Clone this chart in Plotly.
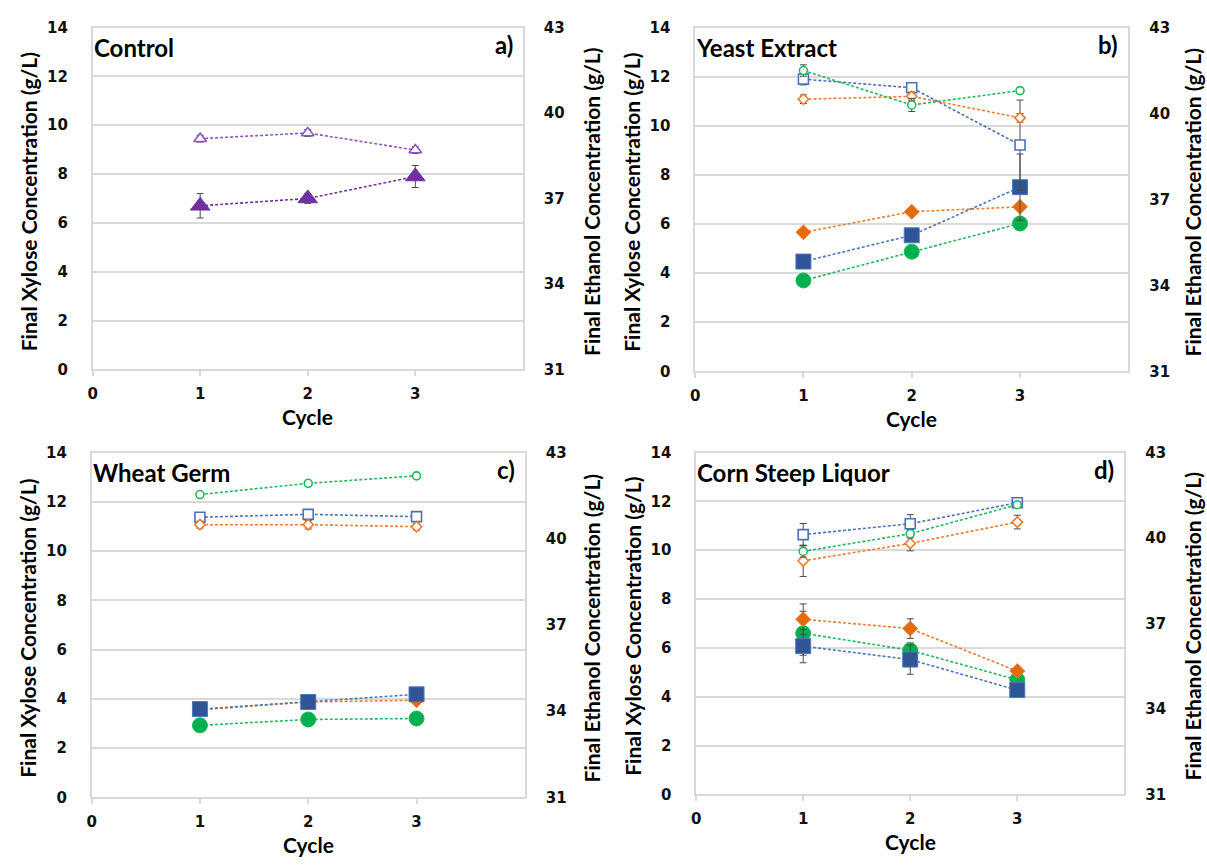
import plotly.graph_objects as go

cycles = [1, 2, 3]

# ---- a) Control -------------------------------------------------------
ctrl_xyl = [6.7, 7.0, 7.9]
ctrl_xyl_err = [0.5, 0.2, 0.45]
ctrl_eth = [39.1, 39.3, 38.7]
ctrl_eth_err = [0.12, 0.12, 0.12]

# ---- b) Yeast Extract -------------------------------------------------
ye_xyl_sq = [4.47, 5.54, 7.5]
ye_xyl_sq_err = [0.15, 0.15, 1.35]
ye_xyl_di = [5.66, 6.5, 6.7]
ye_xyl_di_err = [0.1, 0.1, 0.1]
ye_xyl_ci = [3.7, 4.87, 6.02]
ye_xyl_ci_err = [0.1, 0.1, 0.1]
ye_eth_sq = [41.2, 40.9, 38.9]
ye_eth_sq_err = [0.2, 0.1, 1.57]
ye_eth_di = [40.5, 40.6, 39.85]
ye_eth_di_err = [0.15, 0.15, 0.15]
ye_eth_ci = [41.5, 40.3, 40.8]
ye_eth_ci_err = [0.2, 0.23, 0.08]

# ---- c) Wheat Germ ----------------------------------------------------
wg_xyl_sq = [3.58, 3.87, 4.18]
wg_xyl_sq_err = [0.1, 0.1, 0.1]
wg_xyl_di = [3.55, 3.87, 3.94]
wg_xyl_di_err = [0.1, 0.1, 0.1]
wg_xyl_ci = [2.92, 3.16, 3.2]
wg_xyl_ci_err = [0.1, 0.1, 0.1]
wg_eth_sq = [40.75, 40.85, 40.77]
wg_eth_sq_err = [0.12, 0.12, 0.12]
wg_eth_di = [40.49, 40.49, 40.42]
wg_eth_di_err = [0.12, 0.15, 0.12]
wg_eth_ci = [41.54, 41.93, 42.19]
wg_eth_ci_err = [0.08, 0.08, 0.08]

# ---- d) Corn Steep Liquor ---------------------------------------------
csl_xyl_sq = [6.07, 5.52, 4.27]
csl_xyl_sq_err = [0.68, 0.6, 0.1]
csl_xyl_di = [7.17, 6.79, 5.05]
csl_xyl_di_err = [0.63, 0.4, 0.1]
csl_xyl_ci = [6.6, 5.9, 4.69]
csl_xyl_ci_err = [0.9, 0.3, 0.1]
csl_eth_sq = [40.12, 40.5, 41.24]
csl_eth_sq_err = [0.39, 0.32, 0.15]
csl_eth_di = [39.2, 39.81, 40.56]
csl_eth_di_err = [0.55, 0.26, 0.24]
csl_eth_ci = [39.53, 40.15, 41.17]
csl_eth_ci_err = [0.2, 0.15, 0.1]

panel_titles = ["Control", "Yeast Extract", "Wheat Germ", "Corn Steep Liquor"]
panel_tags = ["a)", "b)", "c)", "d)"]
x_ticks = [0, 1, 2, 3]
xyl_ticks = [0, 2, 4, 6, 8, 10, 12, 14]
eth_ticks = [31, 34, 37, 40, 43]

W, H = 1207, 866

BLUE, BLUE_L = "#2F5597", "#4A72B8"
ORANGE, ORANGE_L = "#E36C0A", "#ED7D31"
GREEN, GREEN_L = "#00B050", "#22B85C"
PURPLE, PURPLE_L = "#7030A0", "#8E56C0"
ERR = "#4A4A4A"

# plot-area rectangles in pixels: (left, right, top, bottom)
boxes = [(88, 520, 19, 368), (693, 1128, 19, 370),
         (87, 522, 453, 805), (694, 1124, 453, 802)]
# horizontal centres of the right-hand (ethanol) axis titles
eth_title_x = [589, 1192, 589, 1192]


def px_x(v):
    return v / W


def px_y(v):
    return 1 - v / H


fig = go.Figure()


def add_series(panel, y, err, symbol, size, color, line_color, filled, secondary):
    xa = "x" if panel == 1 else f"x{panel}"
    ya = (f"y{panel + 4}") if secondary else ("y" if panel == 1 else f"y{panel}")
    marker = dict(symbol=symbol, size=size)
    if filled:
        marker.update(color=color, line=dict(color=line_color, width=1))
    else:
        marker.update(color="white", line=dict(color=line_color, width=1.6))
    fig.add_trace(go.Scatter(
        x=cycles, y=y, xaxis=xa, yaxis=ya, mode="lines+markers",
        line=dict(color=line_color, width=1.6, dash="3px,2px"),
        marker=marker,
        error_y=dict(type="data", array=err, visible=True, color=ERR,
                     thickness=1, width=3.5),
        showlegend=False, hoverinfo="x+y",
    ))


# a) Control
add_series(1, ctrl_xyl, ctrl_xyl_err, "triangle-up", 17, PURPLE, PURPLE, True, False)
add_series(1, ctrl_eth, ctrl_eth_err, "triangle-up", 11, PURPLE, PURPLE_L, False, True)

# b, c, d) supplemented media: three series each
media = [
    (2, (ye_xyl_sq, ye_xyl_sq_err), (ye_xyl_di, ye_xyl_di_err), (ye_xyl_ci, ye_xyl_ci_err),
        (ye_eth_sq, ye_eth_sq_err), (ye_eth_di, ye_eth_di_err), (ye_eth_ci, ye_eth_ci_err)),
    (3, (wg_xyl_sq, wg_xyl_sq_err), (wg_xyl_di, wg_xyl_di_err), (wg_xyl_ci, wg_xyl_ci_err),
        (wg_eth_sq, wg_eth_sq_err), (wg_eth_di, wg_eth_di_err), (wg_eth_ci, wg_eth_ci_err)),
    (4, (csl_xyl_sq, csl_xyl_sq_err), (csl_xyl_di, csl_xyl_di_err), (csl_xyl_ci, csl_xyl_ci_err),
        (csl_eth_sq, csl_eth_sq_err), (csl_eth_di, csl_eth_di_err), (csl_eth_ci, csl_eth_ci_err)),
]
for p, xsq, xdi, xci, esq, edi, eci in media:
    add_series(p, *esq, "square", 10, BLUE, BLUE_L, False, True)
    add_series(p, *edi, "diamond", 8, ORANGE, ORANGE_L, False, True)
    add_series(p, *eci, "circle", 8, GREEN, GREEN_L, False, True)
    add_series(p, *xci, "circle", 15, GREEN, GREEN_L, True, False)
    add_series(p, *xdi, "diamond", 11.5, ORANGE, ORANGE_L, True, False)
    add_series(p, *xsq, "square", 15, BLUE, "#4F78B8", True, False)

tick_font = dict(family="DejaVu Sans", size=15, color="#111111", weight="bold")
title_font = dict(family="Lato", size=21, color="black", weight="bold")
label_font = dict(family="Lato", size=24, color="black", weight="bold")
GRID = "#D9D9D9"

layout = dict(
    width=W, height=H, margin=dict(l=0, r=0, t=0, b=0),
    paper_bgcolor="white", plot_bgcolor="white", showlegend=False,
)
annotations = []
for i, (l, r, t, b) in enumerate(boxes, start=1):
    xd = [px_x(l), px_x(r)]
    yd = [px_y(b), px_y(t)]
    xname = "xaxis" if i == 1 else f"xaxis{i}"
    yname = "yaxis" if i == 1 else f"yaxis{i}"
    xref = "x" if i == 1 else f"x{i}"
    yref = "y" if i == 1 else f"y{i}"
    layout[xname] = dict(
        domain=xd, anchor=yref, range=[0, 4], tickvals=x_ticks,
        showgrid=False, zeroline=False, showline=True, linecolor=GRID,
        linewidth=1.5, mirror=True, ticks="outside", ticklen=5,
        tickcolor=GRID, tickwidth=1.5, tickfont=tick_font,
        ticklabelstandoff=5,
    )
    layout[yname] = dict(
        domain=yd, anchor=xref, range=[0, 14], tickvals=xyl_ticks,
        showgrid=True, gridcolor=GRID, gridwidth=1.5, zeroline=False,
        showline=True, linecolor=GRID, linewidth=1.5, mirror=True,
        ticks="", tickfont=tick_font, ticklabelstandoff=20,
    )
    layout[f"yaxis{i + 4}"] = dict(
        overlaying=yref, anchor=xref, side="right", range=[31, 43],
        tickvals=eth_ticks, showgrid=False, zeroline=False, showline=False,
        ticks="", tickfont=tick_font, ticklabelstandoff=20,
    )
    cy = (t + b) / 2
    # axis titles
    annotations.append(dict(
        text="Final Xylose Concentration (g/L)", xref="paper", yref="paper",
        x=px_x(l - 64), y=px_y(cy + 3), textangle=-90, showarrow=False,
        font=title_font, xanchor="center", yanchor="middle"))
    annotations.append(dict(
        text="Final Ethanol Concentration (g/L)", xref="paper", yref="paper",
        x=px_x(eth_title_x[i - 1]), y=px_y(cy + 3), textangle=-90,
        showarrow=False, font=title_font, xanchor="center", yanchor="middle"))
    annotations.append(dict(
        text="Cycle", xref="paper", yref="paper", x=px_x((l + r) / 2),
        y=px_y(b + 48), showarrow=False, font=title_font,
        xanchor="center", yanchor="middle"))
    # panel name and tag inside the plot area
    annotations.append(dict(
        text=panel_titles[i - 1], xref="paper", yref="paper",
        x=px_x(l - 1), y=px_y(t + 20), showarrow=False, font=label_font,
        xanchor="left", yanchor="middle"))
    annotations.append(dict(
        text=panel_tags[i - 1], xref="paper", yref="paper",
        x=px_x(r - 8), y=px_y(t + 17), showarrow=False, font=label_font,
        xanchor="right", yanchor="middle"))

layout["annotations"] = annotations
fig.update_layout(**layout)
fig.write_html("out.html")
